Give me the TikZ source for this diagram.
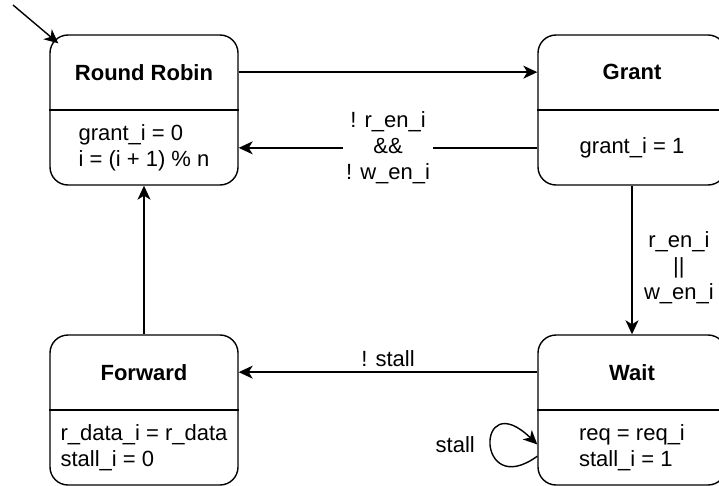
\documentclass[tikz,border=0pt]{standalone}
\usepackage{fontspec}
\setmainfont{Liberation Sans}
\usetikzlibrary{arrows.meta,positioning,calc}

\begin{document}
\begin{tikzpicture}[x = 1pt, y = -1pt, line width = 1.4pt,
  every node/.style = {anchor = center, font = \fontsize{22}{26}\selectfont},
  state/.style = {draw, rounded corners = 18pt, minimum width = 188pt, minimum height = 150pt, inner sep = 0pt},
  title/.style = {font = \fontsize{22}{26}\selectfont\bfseries},
  body/.style = {align = left},
  arr/.style = {-{Stealth[length = 14pt, width = 13pt, inset = 4pt]}}]
\useasboundingbox (0,0) rectangle (719,486);
% states
\node[state] (rr) at (144,110) {};
\node[state] (gr) at (632,110) {};
\node[state] (fw) at (144,410) {};
\node[state] (wt) at (632,410) {};
\foreach \s in {rr,gr,fw,wt}
  \draw (\s.west) -- (\s.east);
\node[title] (rrt) at ($(rr.north)!.5!(rr.center)$) {Round Robin};
\node[body] (rrb) at ($(rr.center)!.5!(rr.south)$) {grant\_i = 0\\i = (i + 1) \% n};
\node[title] (grt) at ($(gr.north)!.5!(gr.center)$) {Grant};
\node[body] (grb) at ($(gr.center)!.5!(gr.south)$) {grant\_i = 1};
\node[title] (fwt) at ($(fw.north)!.5!(fw.center)$) {Forward};
\node[body] (fwb) at ($(fw.center)!.5!(fw.south)$) {r\_data\_i = r\_data\\stall\_i = 0};
\node[title] (wtt) at ($(wt.north)!.5!(wt.center)$) {Wait};
\node[body] (wtb) at ($(wt.center)!.5!(wt.south)$) {req = req\_i\\stall\_i = 1};
% transitions
\coordinate (init) at (13,5);
\draw[arr] (init) -- ([shift={(9,9)}]rr.north west);
\draw[arr] (rrt -| rr.east) -- (grt -| gr.west);
\draw[arr] (grb -| gr.west) -- node[fill = white, align = center] {! r\_en\_i\\\&\&\\! w\_en\_i} (rrb -| rr.east);
\draw[arr] (gr.south) -- node[right = 8pt, pos = .55, align = center] {r\_en\_i\\||\\w\_en\_i} (wt.north);
\draw[arr] (wtt -| wt.west) -- node[above = 1pt] {! stall} (fwt -| fw.east);
\draw[arr] (fw.north) -- (rr.south);
\draw[arr] (wt.206) .. controls +(-62,45) and +(-62,-60) .. (wt.200)
  node[pos = .5, left = 12pt] {stall};
\end{tikzpicture}
\end{document}
